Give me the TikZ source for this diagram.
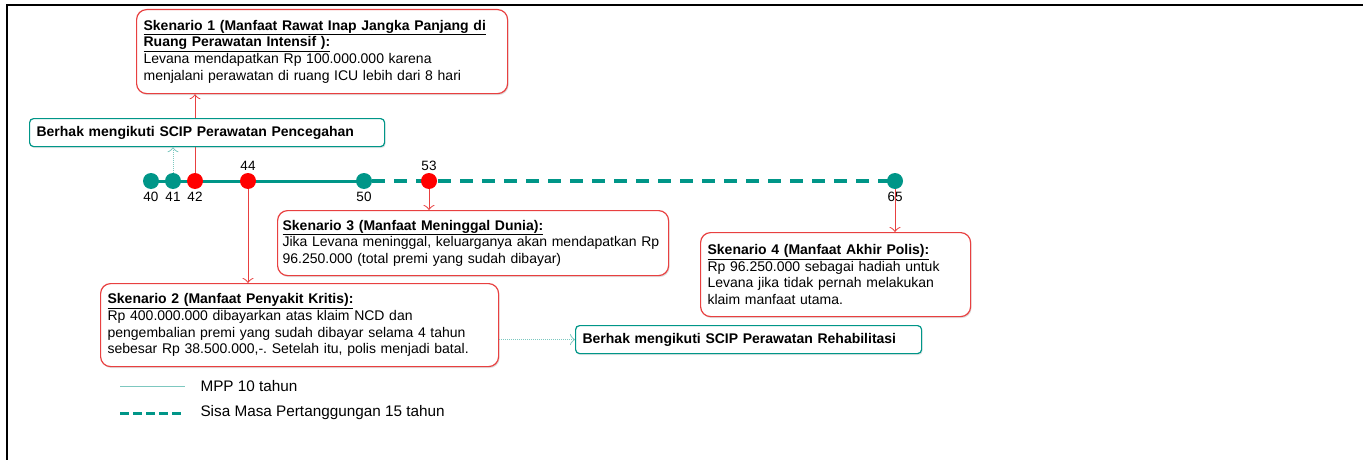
\documentclass[tikz,border=0pt]{standalone}
\usepackage{fontspec}
\setmainfont{Liberation Sans}
\usetikzlibrary{arrows.meta, positioning, backgrounds, shadows}
\definecolor{scipteal}{RGB}{0,150,136}
\definecolor{lightteal}{RGB}{125,200,192}
\definecolor{skred}{RGB}{232,64,64}
\definecolor{dotred}{RGB}{255,0,0}
\newcommand{\sktitle}[1]{\underline{\textbf{#1}}}
\frenchspacing
\tikzset{
  tealdot/.style={circle, fill=scipteal, inner sep=0pt, minimum size=16pt},
  reddot/.style={circle, fill=dotred, inner sep=0pt, minimum size=16pt},
  agelabel/.style={inner sep=1pt, font=\fontsize{13.5}{15}\selectfont},
  skbox/.style={draw=skred, line width=1.2pt, rounded corners=10pt, fill=white,
    anchor=north west, align=left, inner xsep=7pt, inner ysep=2pt,
    font=\fontsize{14}{16.7}\selectfont,
    drop shadow={opacity=0.25, shadow xshift=1pt, shadow yshift=-1.5pt}},
  scipbox/.style={draw=scipteal, line width=1.2pt, rounded corners=4pt, fill=white,
    anchor=north west, align=left, inner xsep=7pt, minimum height=28pt,
    font=\bfseries\fontsize{14}{16}\selectfont,
    drop shadow={opacity=0.2, shadow xshift=1pt, shadow yshift=-1.5pt}},
  redarrow/.style={draw=skred, line width=1pt, ->},
  tealarrow/.style={draw=lightteal, line width=1pt, densely dotted, ->},
  mppline/.style={draw=scipteal, line width=3pt},
  sisaline/.style={draw=scipteal, line width=3.5pt, dash pattern=on 13pt off 9pt},
  legendtext/.style={anchor=west, font=\fontsize{15.3}{17}\selectfont},
}
\begin{document}
\begin{tikzpicture}[x=1pt, y=-1pt, >={Classical TikZ Rightarrow[length=5pt, width=11pt]}]
    \useasboundingbox (0,0) rectangle (1363,460);
    \draw[line width=2pt] (7,460) -- (7,5) -- (1363,5);

    % timeline
    \foreach \age/\x in {40/151, 41/173, 50/364, 65/895}
        \node[tealdot] (d\age) at (\x,181) {};
    \foreach \age/\x in {42/195, 44/248, 53/429}
        \node[reddot] (d\age) at (\x,181) {};
    \begin{scope}[on background layer]
      \draw[mppline] (d40.center) -- (d50.center);
      \draw[sisaline] (d50.east) -- (d65.center);
    \end{scope}

    \foreach \age in {40, 41, 42, 50, 65}
        \node[agelabel, below=2pt of d\age] (l\age) {\age};
    \foreach \age in {44, 53}
        \node[agelabel, above=1pt of d\age] (l\age) {\age};

    % skenario boxes
    \node[skbox, text width=357pt, minimum height=84pt] (sk1) at (136,9) {
      \sktitle{Skenario 1 (Manfaat Rawat Inap Jangka Panjang di}\\
      \sktitle{Ruang Perawatan Intensif ):}\\
      Levana mendapatkan Rp 100.000.000 karena\\
      menjalani perawatan di ruang ICU lebih dari 8 hari};
    \node[skbox, text width=384pt, minimum height=83pt] (sk2) at (100,283) {
      \sktitle{Skenario 2 (Manfaat Penyakit Kritis):}\\
      Rp 400.000.000 dibayarkan atas klaim NCD dan\\
      pengembalian premi yang sudah dibayar selama 4 tahun\\
      sebesar Rp 38.500.000,-. Setelah itu, polis menjadi batal.};
    \node[skbox, text width=381pt, inner xsep=5pt, minimum height=65pt] (sk3) at (277,210) {
      \sktitle{Skenario 3 (Manfaat Meninggal Dunia):}\\
      Jika Levana meninggal, keluarganya akan mendapatkan Rp\\
      96.250.000 (total premi yang sudah dibayar)};
    \node[skbox, text width=256pt, minimum height=84pt] (sk4) at (700,232) {
      \sktitle{Skenario 4 (Manfaat Akhir Polis):}\\
      Rp 96.250.000 sebagai hadiah untuk\\
      Levana jika tidak pernah melakukan\\
      klaim manfaat utama.};

    \begin{scope}[on background layer]
      \draw[redarrow] (d42.center) -- (d42 |- sk1.south);
    \end{scope}
    \draw[redarrow] (d44.south) -- (d44 |- sk2.north);
    \draw[redarrow] (d53.south) -- (d53 |- sk3.north);
    \draw[redarrow] (d65.south) -- (d65 |- sk4.north);

    % SCIP boxes
    \node[scipbox, text width=341pt] (cegah) at (29,118) {Berhak mengikuti SCIP Perawatan Pencegahan};
    \node[scipbox, text width=332pt] (rehab) at (575,325) {Berhak mengikuti SCIP Perawatan Rehabilitasi};
    \draw[tealarrow] (d41.north) -- (d41 |- cegah.south);
    \draw[tealarrow] (sk2.east |- rehab.west) -- (rehab.west);

    % legend
    \draw[draw=lightteal, line width=1pt] (120,386) -- (185,386);
    \node[legendtext] (legmpp) at (197,386) {MPP 10 tahun};
    \draw[sisaline, line width=3pt, dash pattern=on 9pt off 4pt] (120,413) -- (182,413);
    \node[legendtext] (legsisa) at (197,413) {Sisa Masa Pertanggungan 15 tahun};
\end{tikzpicture}
\end{document}
